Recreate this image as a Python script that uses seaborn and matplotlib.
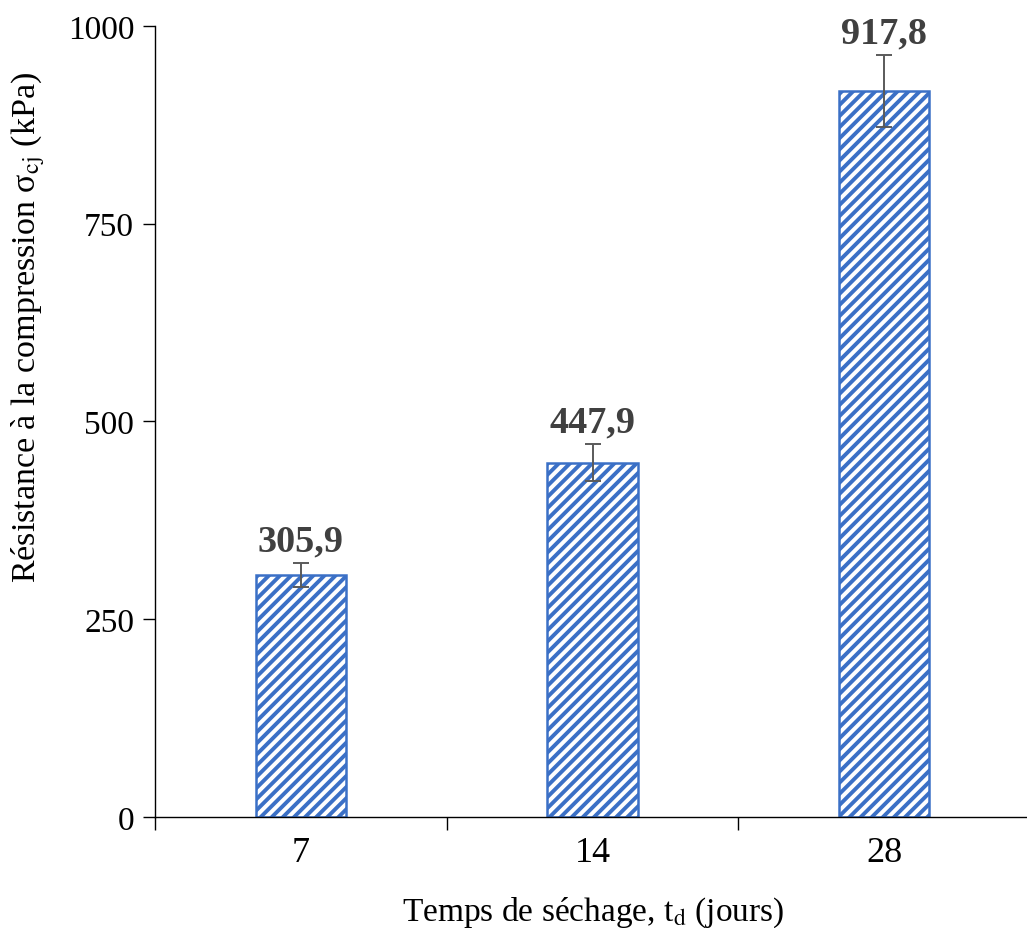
import seaborn as sns
import pandas as pd
import matplotlib.pyplot as plt

# donnees
jours = ['7', '14', '28']
resistance = [305.9, 447.9, 917.8]
ecart = [15, 23, 45]
etiquettes = ['305,9', '447,9', '917,8']

sns.set_style('ticks')
plt.rcParams['font.family'] = ['Liberation Serif', 'DejaVu Serif']
plt.rcParams['mathtext.fontset'] = 'stix'
plt.rcParams['hatch.linewidth'] = 2.8
plt.rcParams['text.color'] = 'black'
plt.rcParams['axes.labelcolor'] = 'black'
plt.rcParams['xtick.color'] = 'black'
plt.rcParams['ytick.color'] = 'black'
plt.rcParams['axes.edgecolor'] = 'black'

data = pd.DataFrame({'jours': jours, 'resistance': resistance})

fig = plt.figure(figsize=(10.27, 9.29), dpi=100)
ax = fig.add_axes([0.151, 0.1195, 0.852, 0.8515])

sns.barplot(data=data, x='jours', y='resistance', ax=ax, width=0.31,
            color='white', edgecolor='#3b70c6', linewidth=1.8,
            hatch='///', errorbar=None)

ax.errorbar(range(len(jours)), resistance, yerr=ecart, fmt='none',
            ecolor='#5a5a5a', elinewidth=1.4, capsize=6, capthick=1.4)

for i, (v, e, t) in enumerate(zip(resistance, ecart, etiquettes)):
    ax.text(i, v + e + 6, t, ha='center', va='bottom', fontsize=27.5,
            fontweight='bold', color='#404040')

ax.set_ylim(0, 1000)
ax.set_xlim(-0.5, 2.5)
ax.set_yticks([0, 250, 500, 750, 1000])
ax.set_xticks([-0.5, 0.5, 1.5, 2.5], minor=True)
ax.tick_params(axis='x', which='major', length=0, labelsize=26, pad=14)
ax.tick_params(axis='x', which='minor', length=9, width=1, direction='out')
ax.tick_params(axis='y', length=9, width=1, labelsize=24, pad=6)

sns.despine(ax=ax, top=True, right=True)
ax.spines['left'].set_linewidth(1)
ax.spines['bottom'].set_linewidth(1)

ax.set_xlabel(r'Temps de séchage, t$_{\mathrm{d}}$ (jours)', fontsize=24, labelpad=18)
ax.set_ylabel(r'Résistance à la compression σ$_{\mathrm{cj}}$ (kPa)', fontsize=24.5)
ax.yaxis.set_label_coords(-0.125, 0.62)

plt.savefig('out.png', dpi=100)
plt.close()
